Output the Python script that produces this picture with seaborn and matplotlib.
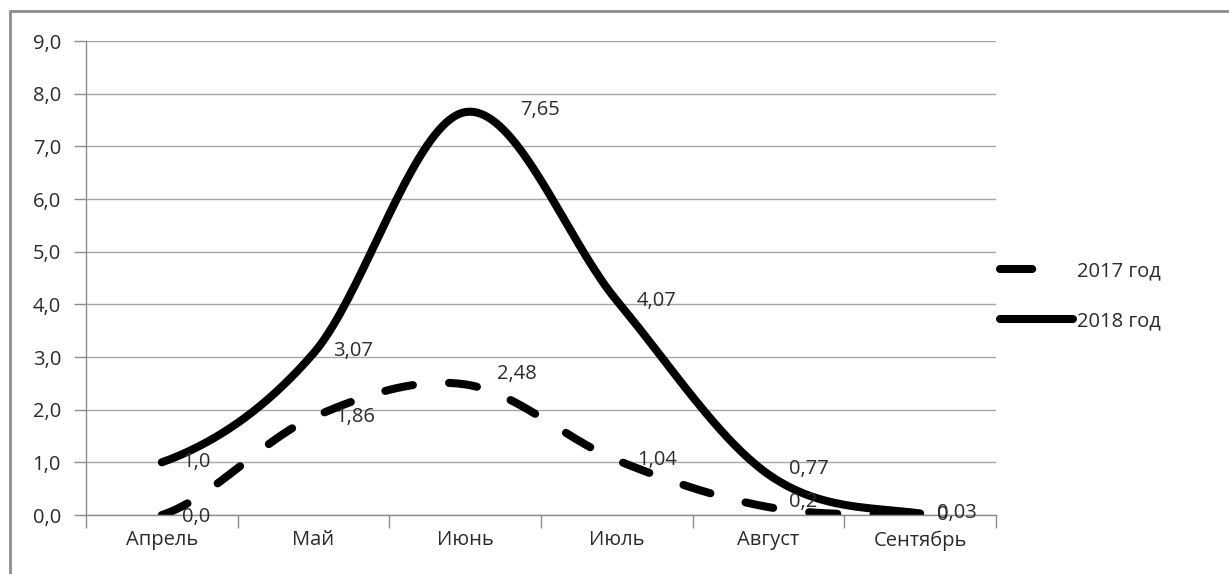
import numpy as np
import pandas as pd
import seaborn as sns
import matplotlib
matplotlib.use('Agg')
import matplotlib.pyplot as plt
from matplotlib.patches import Rectangle

# data
months = ['Апрель', 'Май', 'Июнь', 'Июль', 'Август', 'Сентябрь']
vals_2017 = [0.0, 1.86, 2.48, 1.04, 0.15, 0.0]
vals_2018 = [1.0, 3.07, 7.65, 4.07, 0.77, 0.03]
labels_2017 = ['0,0', '1,86', '2,48', '1,04', '0,2', '0']
labels_2018 = ['1,0', '3,07', '7,65', '4,07', '0,77', '0,03']
yticks = [0, 1, 2, 3, 4, 5, 6, 7, 8, 9]

sns.set_theme(style='white')
plt.rcParams['font.family'] = ['Open Sans', 'DejaVu Sans']
fs = 14.5
txt = '#2b2b2b'


def smooth(y, n=40):
    # excel-like smoothed line (catmull-rom through the points)
    y = np.asarray(y, dtype=float)
    p = np.concatenate([[y[0]], y, [y[-1]]])
    xs, ys = [], []
    for i in range(len(y) - 1):
        t = np.linspace(0, 1, n, endpoint=(i == len(y) - 2))
        p0, p1, p2, p3 = p[i], p[i + 1], p[i + 2], p[i + 3]
        yy = 0.5 * (2 * p1 + (-p0 + p2) * t + (2 * p0 - 5 * p1 + 4 * p2 - p3) * t ** 2
                    + (-p0 + 3 * p1 - 3 * p2 + p3) * t ** 3)
        xs.append(i + t)
        ys.append(yy)
    return np.concatenate(xs), np.concatenate(ys)


x17, y17 = smooth(vals_2017)
x18, y18 = smooth(vals_2018)
df = pd.concat([
    pd.DataFrame({'x': x17, 'y': y17, 'год': '2017 год'}),
    pd.DataFrame({'x': x18, 'y': y18, 'год': '2018 год'}),
])

fig = plt.figure(figsize=(12.29, 5.74), dpi=100)
ax = fig.add_axes([86 / 1229, 1 - 515 / 574, 910 / 1229, 474 / 574])

lw = 5.8
sns.lineplot(data=df, x='x', y='y', hue='год', style='год',
             palette={'2017 год': 'black', '2018 год': 'black'},
             dashes={'2017 год': (3.5, 4.5), '2018 год': ''},
             linewidth=lw, sort=False, legend=False, ax=ax,
             solid_capstyle='round', dash_capstyle='round')

ax.set_xlim(-0.5, len(months) - 0.5)
ax.set_ylim(0, 9)
ax.set_yticks(yticks)
ax.set_yticklabels([f'{v},0' for v in yticks], fontsize=fs, color=txt)
ax.set_xticks(range(len(months)))
ax.set_xticklabels(months, fontsize=fs, color=txt)
ax.set_xlabel('')
ax.set_ylabel('')
ax.tick_params(axis='x', length=0, pad=11)
ax.tick_params(axis='y', length=9, width=1, color='#8c8c8c', direction='out', pad=9, left=True)
# category boundary ticks on x axis
ax.set_xticks(np.arange(-0.5, len(months), 1), minor=True)
ax.tick_params(axis='x', which='minor', length=9, width=1, color='#8c8c8c', direction='out', bottom=True)
ax.grid(axis='y', color='#a6a6a6', linewidth=1)
ax.grid(axis='x', visible=False)
ax.set_axisbelow(True)
for s in ['top', 'right']:
    ax.spines[s].set_visible(False)
for s in ['left', 'bottom']:
    ax.spines[s].set_color('#8c8c8c')
    ax.spines[s].set_linewidth(1)

# data labels
offs18 = [(20, 0), (20, 2), (55, 2), (20, 0), (20, 5), (17, 0)]
offs17 = [(20, -2), (22, 0), (32, 10), (20, 0), (20, 5), (17, 0)]
for i in range(len(months)):
    ax.annotate(labels_2018[i], (i, vals_2018[i]), xytext=offs18[i], textcoords='offset pixels',
                ha='left', va='center', fontsize=fs, color=txt)
    ax.annotate(labels_2017[i], (i, vals_2017[i]), xytext=offs17[i], textcoords='offset pixels',
                ha='left', va='center', fontsize=fs, color=txt)

# legend
h17 = plt.Line2D([], [], color='black', linewidth=lw, dashes=(4.0, 20), dash_capstyle='round')
h18 = plt.Line2D([], [], color='black', linewidth=lw, solid_capstyle='round')
fig.legend([h17, h18], ['2017 год', '2018 год'], loc='center left',
           bbox_to_anchor=(982 / 1229, 1 - 296 / 574), frameon=False, fontsize=fs,
           handlelength=3.6, handletextpad=0.2, labelspacing=1.5, labelcolor=txt)

# chart border
fig.patches.append(Rectangle((10 / 1229, -0.1), 1.2, 1 - 11 / 574 + 0.1, transform=fig.transFigure,
                             fill=False, edgecolor='#8c8c8c', linewidth=2))

fig.savefig('out.png', dpi=100)
